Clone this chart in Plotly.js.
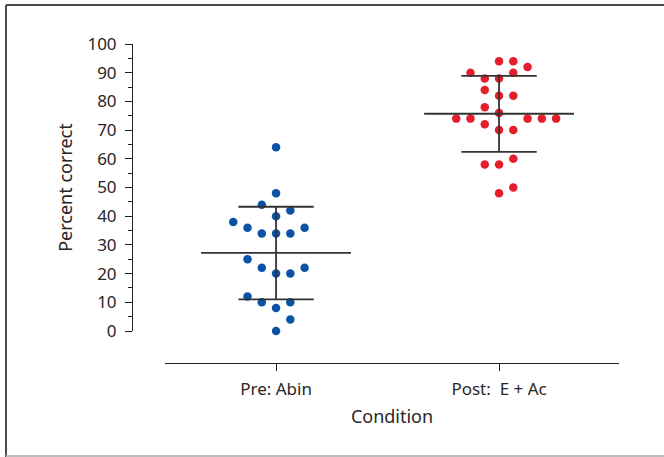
<!DOCTYPE html>
<html>
<head>
<meta charset="utf-8">
<script src="https://cdn.plot.ly/plotly-3.0.1.min.js"></script>
<style>html,body{margin:0;padding:0;background:#fff;}#chart{width:664px;height:457px;}</style>
</head>
<body>
<div id="chart"></div>
<script>
// Categories and tick labels
const categories = ["Pre: Abin", "Post:  E + Ac"];
const categoryPos = [0, 1];

// Pre: Abin values (percent correct) and beeswarm slot offsets
const preValues = [64, 48, 44, 42, 40, 38, 36, 36, 34, 34, 34, 25, 22, 22, 20, 20, 12, 10, 10, 8, 4, 0];
const preSlots  = [ 0,  0, -1,  1,  0, -3, -2,  2, -1,  0,  1, -2, -1,  2,  0,  1, -2, -1,  1, 0, 1, 0];

// Post: E + Ac values and beeswarm slot offsets
const postValues = [94, 94, 92, 90, 90, 88, 88, 84, 82, 82, 78, 76, 74, 74, 74, 74, 74, 72, 70, 70, 60, 58, 58, 50, 48];
const postSlots  = [ 0,  1,  2, -2,  1, -1,  0, -1,  0,  1, -1,  0, -3, -2,  2,  3,  4, -1,  0,  1,  1, -1,  0,  1,  0];

// Summary (mean and mean ± SD)
const means = [27.2, 75.7];
const sdLow = [11.0, 62.4];
const sdHigh = [43.3, 88.9];

const slotStep = 0.064;
const meanHalf = 0.336;
const sdHalf = 0.169;

function xs(center, slots) { return slots.map(s => center + s * slotStep); }

const traces = [
  {
    type: "scatter", mode: "markers",
    x: xs(categoryPos[0], preSlots), y: preValues,
    marker: {color: "#0a52a5", size: 8.5},
    cliponaxis: false, hoverinfo: "y", showlegend: false
  },
  {
    type: "scatter", mode: "markers",
    x: xs(categoryPos[1], postSlots), y: postValues,
    marker: {color: "#e41e2a", size: 8.5},
    cliponaxis: false, hoverinfo: "y", showlegend: false
  }
];

// Mean and SD lines via the data axes
const lineColor = "#333333";
categoryPos.forEach((c, i) => {
  traces.push({type: "scatter", mode: "lines", x: [c - meanHalf, c + meanHalf], y: [means[i], means[i]],
    line: {color: lineColor, width: 1.8}, showlegend: false, hoverinfo: "skip", cliponaxis: false});
  traces.push({type: "scatter", mode: "lines", x: [c - sdHalf, c + sdHalf], y: [sdHigh[i], sdHigh[i]],
    line: {color: lineColor, width: 1.8}, showlegend: false, hoverinfo: "skip", cliponaxis: false});
  traces.push({type: "scatter", mode: "lines", x: [c - sdHalf, c + sdHalf], y: [sdLow[i], sdLow[i]],
    line: {color: lineColor, width: 1.8}, showlegend: false, hoverinfo: "skip", cliponaxis: false});
  traces.push({type: "scatter", mode: "lines", x: [c, c], y: [sdLow[i], sdHigh[i]],
    line: {color: lineColor, width: 1.8}, showlegend: false, hoverinfo: "skip", cliponaxis: false});
});

const yTicks = [0, 10, 20, 30, 40, 50, 60, 70, 80, 90, 100];
const yMinor = [5, 15, 25, 35, 45, 55, 65, 75, 85, 95];

const fontFam = "Noto Sans, Open Sans, sans-serif";
const txt = "#2a2627";
const layout = {
  width: 664, height: 457,
  margin: {l: 132, r: 45, t: 44, b: 94, pad: 0},
  paper_bgcolor: "#ffffff", plot_bgcolor: "rgba(0,0,0,0)",
  font: {family: fontFam, size: 17, color: txt},
  xaxis: {
    domain: [0.0678, 1], anchor: "free", position: 0,
    range: [-0.498, 1.538],
    tickvals: categoryPos, ticktext: categories,
    showline: true, linecolor: "#231f20", linewidth: 1,
    ticks: "outside", ticklen: 7, tickcolor: "#231f20",
    ticklabelstandoff: 4,
    showgrid: false, zeroline: false,
    tickfont: {size: 17, family: fontFam, color: txt},
    title: {text: "Condition", font: {size: 18, family: fontFam, color: txt}, standoff: 10}
  },
  yaxis: {
    domain: [0.1003, 1], anchor: "free", position: 0,
    range: [0, 100],
    tickvals: yTicks,
    showline: true, linecolor: "#231f20", linewidth: 1,
    ticks: "outside", ticklen: 7, tickcolor: "#231f20",
    ticklabelstandoff: 5,
    minor: {tickvals: yMinor, ticks: "outside", ticklen: 4, tickcolor: "#231f20", showgrid: false},
    showgrid: false, zeroline: false,
    tickfont: {size: 17, family: fontFam, color: txt},
    title: {text: "Percent correct", font: {size: 18, family: fontFam, color: txt}, standoff: 9}
  },
  shapes: [
    {type: "line", xref: "paper", yref: "paper", x0: -0.2587, x1: 1.1, y0: 1.1223, y1: 1.1223, line: {color: "#4a4a4a", width: 2}},
    {type: "line", xref: "paper", yref: "paper", x0: -0.2587, x1: -0.2587, y0: 1.1223, y1: -0.3, line: {color: "#4a4a4a", width: 2}},
    {type: "line", xref: "paper", yref: "paper", x0: -0.2587, x1: 1.1, y0: -0.2915, y1: -0.2915, line: {color: "#bdbdbd", width: 2}}
  ]
};

Plotly.newPlot("chart", traces, layout, {staticPlot: true, displayModeBar: false});
</script>
</body>
</html>
